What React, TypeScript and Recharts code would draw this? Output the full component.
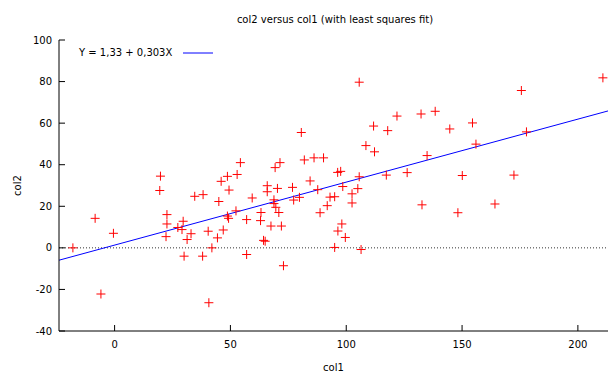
import React from 'react';
import { ScatterChart, Scatter, XAxis, YAxis, ReferenceLine } from 'recharts';

const COL1 = [
  -18, -8.4, -0.5, -5.9, 19.8, 19.5, 22.6, 22.6, 22.2, 27.3, 29.6, 29.1, 33, 31.3, 30, 34.6, 38.2, 38, 40.7, 40.4,
  46.9, 44.4, 42, 45, 46, 48.7, 52.9, 54.3, 49.4, 52.4, 48.7, 49.2, 57, 57, 59.4, 63.2, 63, 64.3, 65, 65.9,
  65.9, 67.5, 72, 69.3, 71.4, 70.3, 68.8, 68.8, 69.6, 70.9, 72.9, 76.8, 77.3, 79.8, 80.6, 81.9, 86.1, 90.2, 84.4, 87.7,
  88.7, 91.8, 93, 95, 96.3, 97.6, 98.5, 102.5, 105, 102.5, 98.1, 96.4, 99.6, 95, 106.4, 105.6, 105.6, 108.5, 112.2, 111.8,
  117.9, 117.3, 121.9, 126.3, 132.3, 132.7, 134.9, 138.4, 144.7, 148.2, 150.1, 154.5, 156, 164.2, 172.4, 175.6, 177.8, 210.8,
];
const COL2 = [
  0, 14.2, 7, -22.2, 34.5, 27.6, 16, 11.5, 5.4, 9.8, 12.8, 8.8, 6.8, 4, -4, 24.8, 25.6, -4, -26.4, 8,
  8.6, 4.8, 0, 22.3, 32, 34.4, 35.3, 41, 27.8, 17.8, 15.3, 14.2, 13.6, -3.2, 24, 17, 13.1, 3.6, 3.2, 29.9,
  27, 10.5, 10.5, 38.6, 41, 28.6, 23.1, 21.3, 19.5, 17, -8.6, 29.1, 23, 24.3, 55.5, 42.3, 43.3, 43.3, 32.2, 28,
  16.9, 20.3, 24.4, 24.6, 36.3, 36.8, 29.5, 26, 28.5, 21.6, 11.5, 8.1, 5, 0.2, -0.8, 34.2, 79.7, 49.2, 46.2, 58.6,
  56.4, 35, 63.4, 36.2, 64.4, 20.7, 44.4, 65.7, 57.2, 16.9, 34.8, 60.1, 49.9, 21.1, 35, 75.7, 55.8, 81.8,
];
const X_TICKS = [0, 50, 100, 150, 200];
const Y_TICKS = [-40, -20, 0, 20, 40, 60, 80, 100];
const X_DOMAIN: [number, number] = [-24, 213];
const Y_DOMAIN: [number, number] = [-40, 100];
const FIT_INTERCEPT = 1.33;
const FIT_SLOPE = 0.303;
const TITLE = 'col2 versus col1 (with least squares fit)';
const LEGEND_LABEL = 'Y = 1,33 + 0,303X';
const X_LABEL = 'col1';
const Y_LABEL = 'col2';

const data = COL1.map((x, i) => ({ x, y: COL2[i] }));
const fitSegment = [
  { x: X_DOMAIN[0], y: FIT_INTERCEPT + FIT_SLOPE * X_DOMAIN[0] },
  { x: X_DOMAIN[1], y: FIT_INTERCEPT + FIT_SLOPE * X_DOMAIN[1] },
];

const FONT = 'DejaVu Sans';
const FS = 10;
const TICK_LEN = 6;
const BOTTOM_MARGIN = 10;
const LEFT_MARGIN = 7;

const BottomTick = (props: any) => {
  const { x, y, payload } = props;
  const axisY = y - BOTTOM_MARGIN;
  return (
    <g>
      <line x1={x} x2={x} y1={axisY} y2={axisY - TICK_LEN} stroke="#000" strokeWidth={1} />
      <text x={x} y={y} dy="0.72em" textAnchor="middle" fontFamily={FONT} fontSize={FS} fill="#000">
        {payload.value}
      </text>
    </g>
  );
};

const TopTick = (props: any) => {
  const { x, y } = props;
  return <line x1={x} x2={x} y1={y} y2={y + TICK_LEN} stroke="#000" strokeWidth={1} />;
};

const LeftTick = (props: any) => {
  const { x, y, payload } = props;
  const axisX = x + LEFT_MARGIN;
  return (
    <g>
      <line x1={axisX} x2={axisX + TICK_LEN} y1={y} y2={y} stroke="#000" strokeWidth={1} />
      <text x={x} y={y} dy="0.35em" textAnchor="end" fontFamily={FONT} fontSize={FS} fill="#000">
        {payload.value}
      </text>
    </g>
  );
};

const Cross = (props: any) => {
  const { cx, cy } = props;
  if (cx == null || cy == null) return null;
  const r = 4.5;
  return (
    <path
      d={`M${cx - r},${cy}H${cx + r}M${cx},${cy - r}V${cy + r}`}
      stroke="#ff0000"
      strokeWidth={1}
      fill="none"
    />
  );
};

const YLabel = (props: any) => {
  const vb = props.viewBox || {};
  const x = vb.x + 8;
  const y = vb.y + vb.height / 2;
  return (
    <text
      x={x}
      y={y}
      transform={`rotate(-90, ${x}, ${y})`}
      textAnchor="middle"
      dominantBaseline="central"
      fontFamily={FONT}
      fontSize={FS}
      fill="#000"
    >
      {Y_LABEL}
    </text>
  );
};

const XLabel = (props: any) => {
  const vb = props.viewBox || {};
  const x = vb.x + vb.width / 2;
  const y = vb.y + 36;
  return (
    <text x={x} y={y} dy="0.35em" textAnchor="middle" fontFamily={FONT} fontSize={FS} fill="#000">
      {X_LABEL}
    </text>
  );
};

export default function App() {
  return (
    <div style={{ position: 'absolute', left: 0, top: 0, width: 608, height: 372, background: '#fff' }}>
      <ScatterChart width={608} height={372} margin={{ top: 40, right: 0, bottom: 1, left: 9 }}>
        <XAxis
          type="number"
          dataKey="x"
          domain={X_DOMAIN}
          ticks={X_TICKS}
          allowDataOverflow
          height={40}
          tickSize={0}
          tickMargin={BOTTOM_MARGIN}
          tickLine={false}
          tick={<BottomTick />}
          axisLine={{ stroke: '#000', strokeWidth: 1 }}
          label={<XLabel />}
        />
        <XAxis
          xAxisId="top"
          orientation="top"
          type="number"
          domain={X_DOMAIN}
          ticks={X_TICKS}
          allowDataOverflow
          height={0}
          tickSize={0}
          tickMargin={0}
          tickLine={false}
          tick={<TopTick />}
          axisLine={{ stroke: '#000', strokeWidth: 1 }}
        />
        <YAxis
          type="number"
          dataKey="y"
          domain={Y_DOMAIN}
          ticks={Y_TICKS}
          allowDataOverflow
          width={50}
          tickSize={0}
          tickMargin={LEFT_MARGIN}
          tickLine={false}
          tick={<LeftTick />}
          axisLine={{ stroke: '#000', strokeWidth: 1 }}
          label={<YLabel />}
        />
        <ReferenceLine y={0} stroke="#333" strokeWidth={1} strokeDasharray="1 2" />
        <Scatter data={data} shape={<Cross />} isAnimationActive={false} />
        <ReferenceLine segment={fitSegment} stroke="#0000ff" strokeWidth={1} ifOverflow="hidden" />
      </ScatterChart>
      <div
        style={{
          position: 'absolute',
          left: 0,
          top: 13,
          width: 670,
          textAlign: 'center',
          fontFamily: FONT,
          fontSize: FS,
          lineHeight: '14px',
          color: '#000',
          whiteSpace: 'nowrap',
        }}
      >
        {TITLE}
      </div>
      <div
        style={{
          position: 'absolute',
          left: 79,
          top: 46,
          fontFamily: FONT,
          fontSize: FS,
          lineHeight: '14px',
          color: '#000',
          whiteSpace: 'nowrap',
        }}
      >
        {LEGEND_LABEL}
      </div>
      <svg width={36} height={14} style={{ position: 'absolute', left: 181, top: 46 }}>
        <line x1={2} x2={32} y1={7} y2={7} stroke="#0000ff" strokeWidth={1} />
      </svg>
    </div>
  );
}
